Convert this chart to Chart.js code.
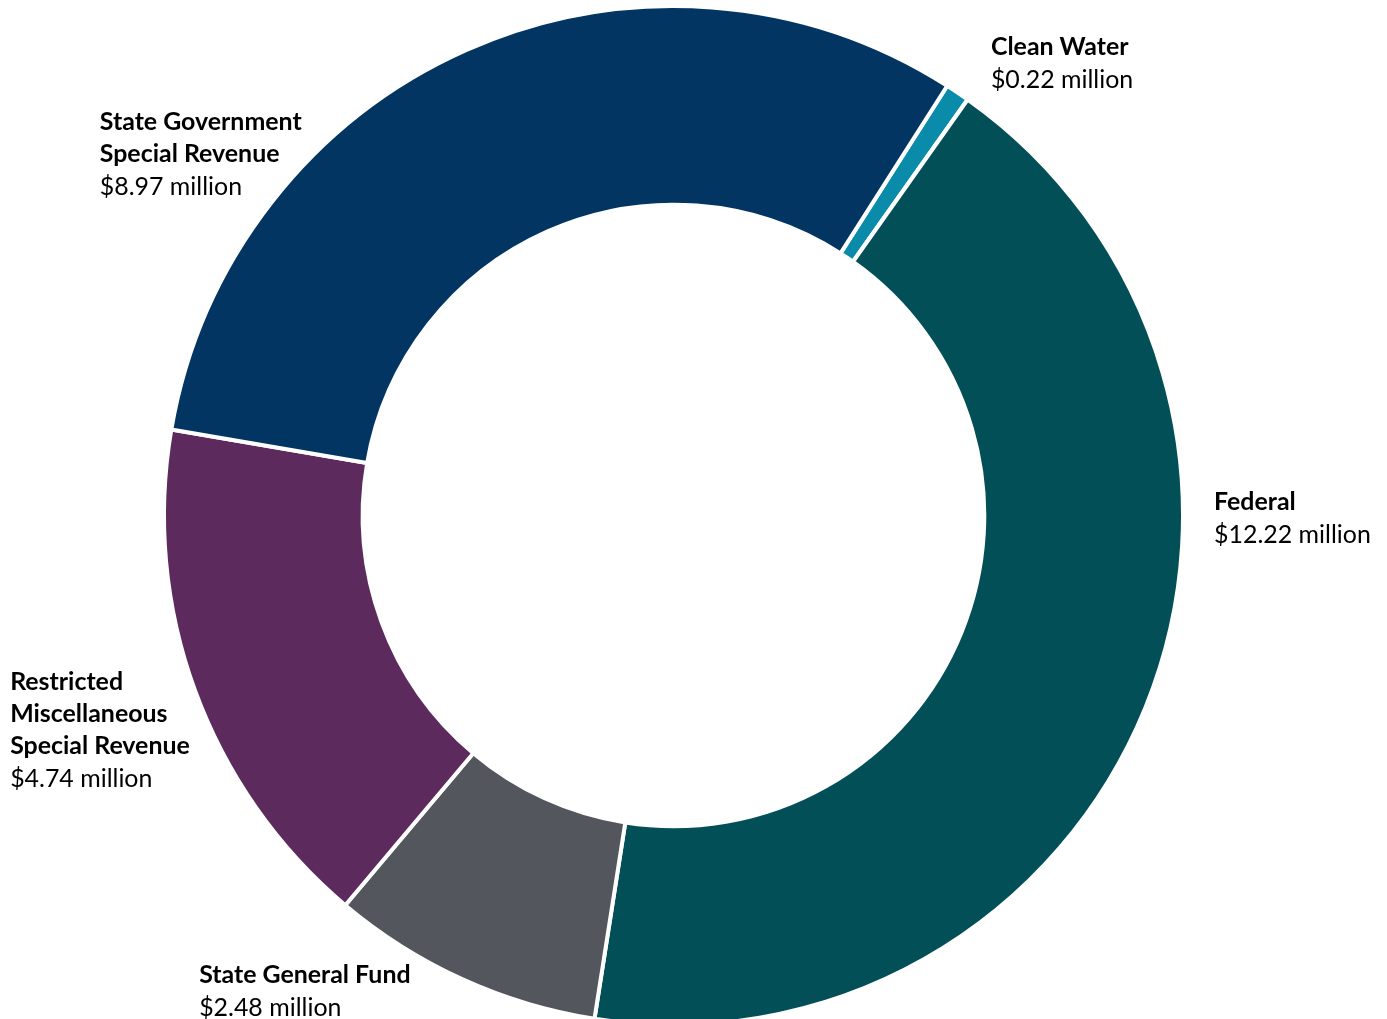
<!DOCTYPE html>
<html>
<head>
<meta charset="utf-8">
<script src="https://cdn.jsdelivr.net/npm/chart.js@4/dist/chart.umd.min.js"></script>
<style>
  html, body { margin: 0; padding: 0; background: #ffffff; overflow: hidden; }
  canvas { display: block; }
</style>
</head>
<body>
<canvas id="c" width="1387" height="1031"></canvas>
<script>
// ---- data ----
const categories = [
  ['Clean Water'],
  ['Federal'],
  ['State General Fund'],
  ['Restricted', 'Miscellaneous', 'Special Revenue'],
  ['State Government', 'Special Revenue']
];
const values = [0.22, 12.22, 2.48, 4.74, 8.97];
const valueLabels = ['$0.22 million', '$12.22 million', '$2.48 million', '$4.74 million', '$8.97 million'];
const colors = ['#0A8BAA', '#034F57', '#53565C', '#5C2A5D', '#033563'];
// label anchor (left, first baseline) relative to centre, in units of outer radius
const labelOffsets = [
  [0.623, -0.904],
  [1.061, -0.011],
  [-0.931, 0.917],
  [-1.302, 0.343],
  [-1.126, -0.756]
];

const FONT = 'Lato, "Open Sans", sans-serif';

const labelPlugin = {
  id: 'outsideLabels',
  afterDraw(chart) {
    const ctx = chart.ctx;
    const meta = chart.getDatasetMeta(0);
    const arc0 = meta.data[0];
    const cx = arc0.x, cy = arc0.y, R = arc0.outerRadius;
    ctx.save();
    ctx.font = 'bold 100px ' + FONT;
    const w = ctx.measureText('State Government').width;
    const size = 100 * 202 / w;
    ctx.fillStyle = '#000000';
    ctx.textAlign = 'left';
    ctx.textBaseline = 'alphabetic';
    categories.forEach((lines, i) => {
      const x = cx + labelOffsets[i][0] * R;
      let y = cy + labelOffsets[i][1] * R;
      ctx.font = 'bold ' + size.toFixed(2) + 'px ' + FONT;
      lines.forEach((ln) => {
        ctx.fillText(ln, x, y);
        y += 32;
      });
      ctx.font = size.toFixed(2) + 'px ' + FONT;
      ctx.fillText(valueLabels[i], x, y + 1);
    });
    ctx.restore();
  }
};

new Chart(document.getElementById('c'), {
  type: 'doughnut',
  data: {
    labels: categories,
    datasets: [{
      data: values,
      backgroundColor: colors,
      borderColor: '#ffffff',
      borderWidth: 4,
      hoverOffset: 0
    }]
  },
  options: {
    responsive: false,
    animation: false,
    cutout: '61%',
    rotation: 32.5,
    layout: { padding: { left: 0, right: 40, top: 4, bottom: 4 } },
    plugins: {
      legend: { display: false },
      tooltip: { enabled: false }
    }
  },
  plugins: [labelPlugin]
});
</script>
</body>
</html>
